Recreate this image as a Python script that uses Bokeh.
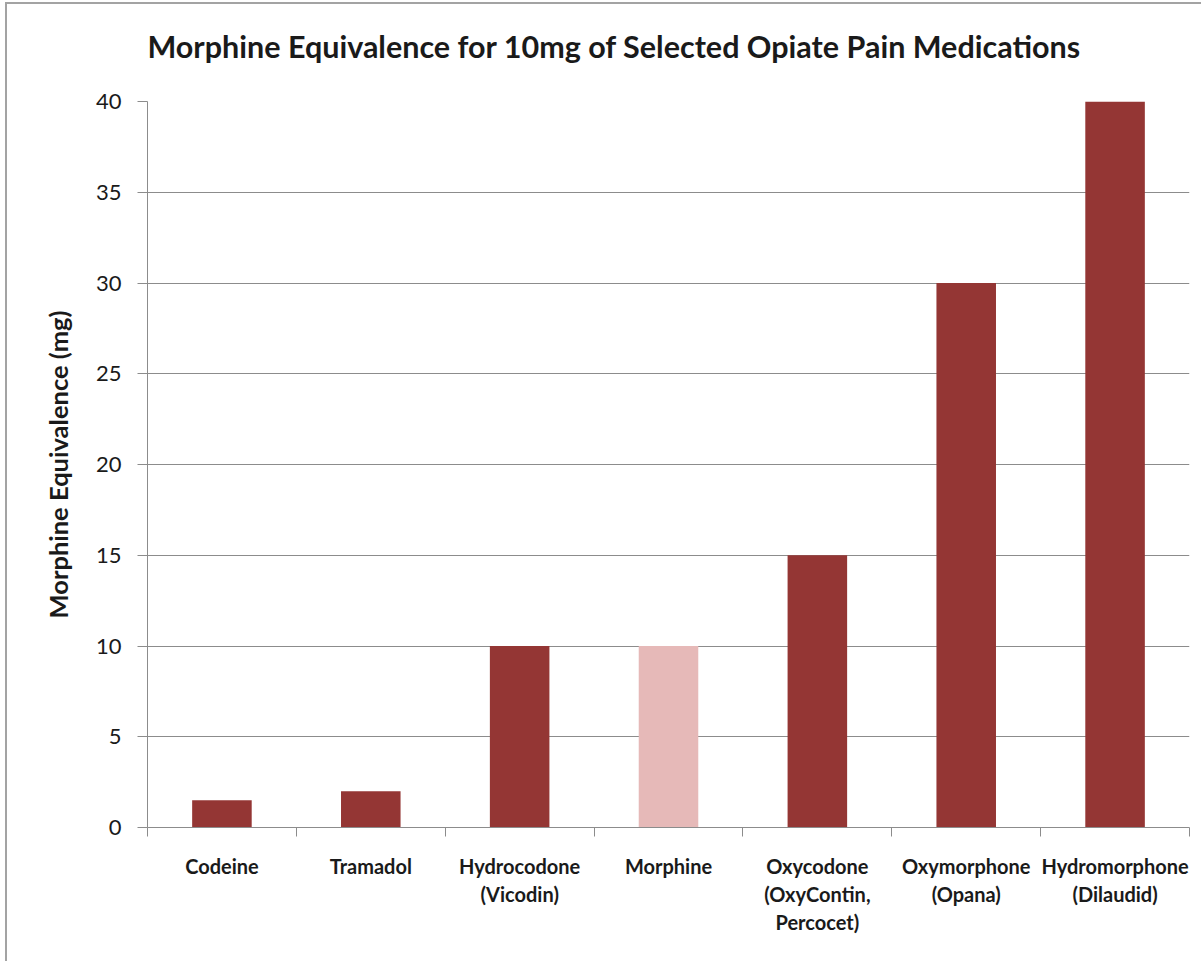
from bokeh.plotting import figure
from bokeh.models import Range1d, FixedTicker, ColumnDataSource, Title
from bokeh.embed import file_html
from bokeh.resources import INLINE

# Morphine-equivalent dose (mg) for 10 mg of each medication
drugs = [
    "Codeine",
    "Tramadol",
    "Hydrocodone\n(Vicodin)",
    "Morphine",
    "Oxycodone\n(OxyContin,\nPercocet)",
    "Oxymorphone\n(Opana)",
    "Hydromorphone\n(Dilaudid)",
]
equivalence_mg = [1.5, 2, 10, 10, 15, 30, 40]
bar_colors = ["#943634", "#943634", "#943634", "#E6B9B8", "#943634", "#943634", "#943634"]
y_ticks = [0, 5, 10, 15, 20, 25, 30, 35, 40]
title_text = "Morphine Equivalence for 10mg of Selected Opiate Pain Medications"

FONT = "Lato"
TEXT = "#1a1a1a"
GRID = "#8c8c8c"

centers = [i + 0.5 for i in range(len(drugs))]
boundaries = list(range(len(drugs) + 1))

source = ColumnDataSource(dict(x=centers, value=equivalence_mg, color=bar_colors, drug=drugs))

p = figure(
    width=1196,
    height=959,
    x_range=Range1d(0, len(drugs)),
    y_range=Range1d(0, max(y_ticks)),
    output_backend="svg",
    toolbar_location=None,
    min_border_left=140,
    min_border_right=14,
    min_border_top=97,
    min_border_bottom=136,
)
p.styles = {
    "margin-left": "5px",
    "margin-top": "2px",
    "border-left": "2px solid #a3a3a3",
    "border-top": "2px solid #a3a3a3",
}

p.vbar(x="x", top="value", bottom=0, width=0.4, fill_color="color", line_color=None, source=source)

p.outline_line_color = None
p.background_fill_color = "white"
p.border_fill_color = "white"

# an empty spacer panel between the plot area and the title
p.add_layout(Title(text=" ", text_font_size="1px", standoff=33), "above")
# chart title
p.add_layout(Title(
    text=title_text,
    text_font=FONT, text_font_size="30.5px", text_font_style="bold",
    text_color=TEXT, align="left", offset=0,
    vertical_align="top", standoff=0,
), "above")

# grid
p.xgrid.grid_line_color = None
p.ygrid.grid_line_color = GRID
p.ygrid.grid_line_width = 1

# y axis
p.yaxis.ticker = FixedTicker(ticks=y_ticks)
p.yaxis.axis_line_color = GRID
p.yaxis.major_tick_line_color = GRID
p.yaxis.major_tick_out = 10
p.yaxis.major_tick_in = 0
p.yaxis.minor_tick_line_color = None
p.yaxis.major_label_text_font = FONT
p.yaxis.major_label_text_font_size = "22px"
p.yaxis.major_label_text_color = TEXT
p.yaxis.major_label_standoff = 16
p.yaxis.axis_label = "Morphine Equivalence (mg)"
p.yaxis.axis_label_text_font = FONT
p.yaxis.axis_label_text_font_size = "25.5px"
p.yaxis.axis_label_text_font_style = "bold"
p.yaxis.axis_label_text_color = TEXT
p.yaxis.axis_label_standoff = 20

# x axis: labels at bar centres, tick marks at category boundaries
p.xaxis.ticker = FixedTicker(ticks=centers, minor_ticks=boundaries)
p.xaxis.major_label_overrides = {c: d for c, d in zip(centers, drugs)}
p.xaxis.axis_line_color = GRID
p.xaxis.major_tick_line_color = None
p.xaxis.major_tick_out = 0
p.xaxis.major_tick_in = 0
p.xaxis.minor_tick_line_color = GRID
p.xaxis.minor_tick_out = 9
p.xaxis.minor_tick_in = 0
p.xaxis.major_label_text_font = FONT
p.xaxis.major_label_text_font_size = "20px"
p.xaxis.major_label_text_font_style = "bold"
p.xaxis.major_label_text_color = TEXT
p.xaxis.major_label_text_line_height = 1.17
p.xaxis.major_label_standoff = 17

open("out.html", "w").write(file_html(p, INLINE))
